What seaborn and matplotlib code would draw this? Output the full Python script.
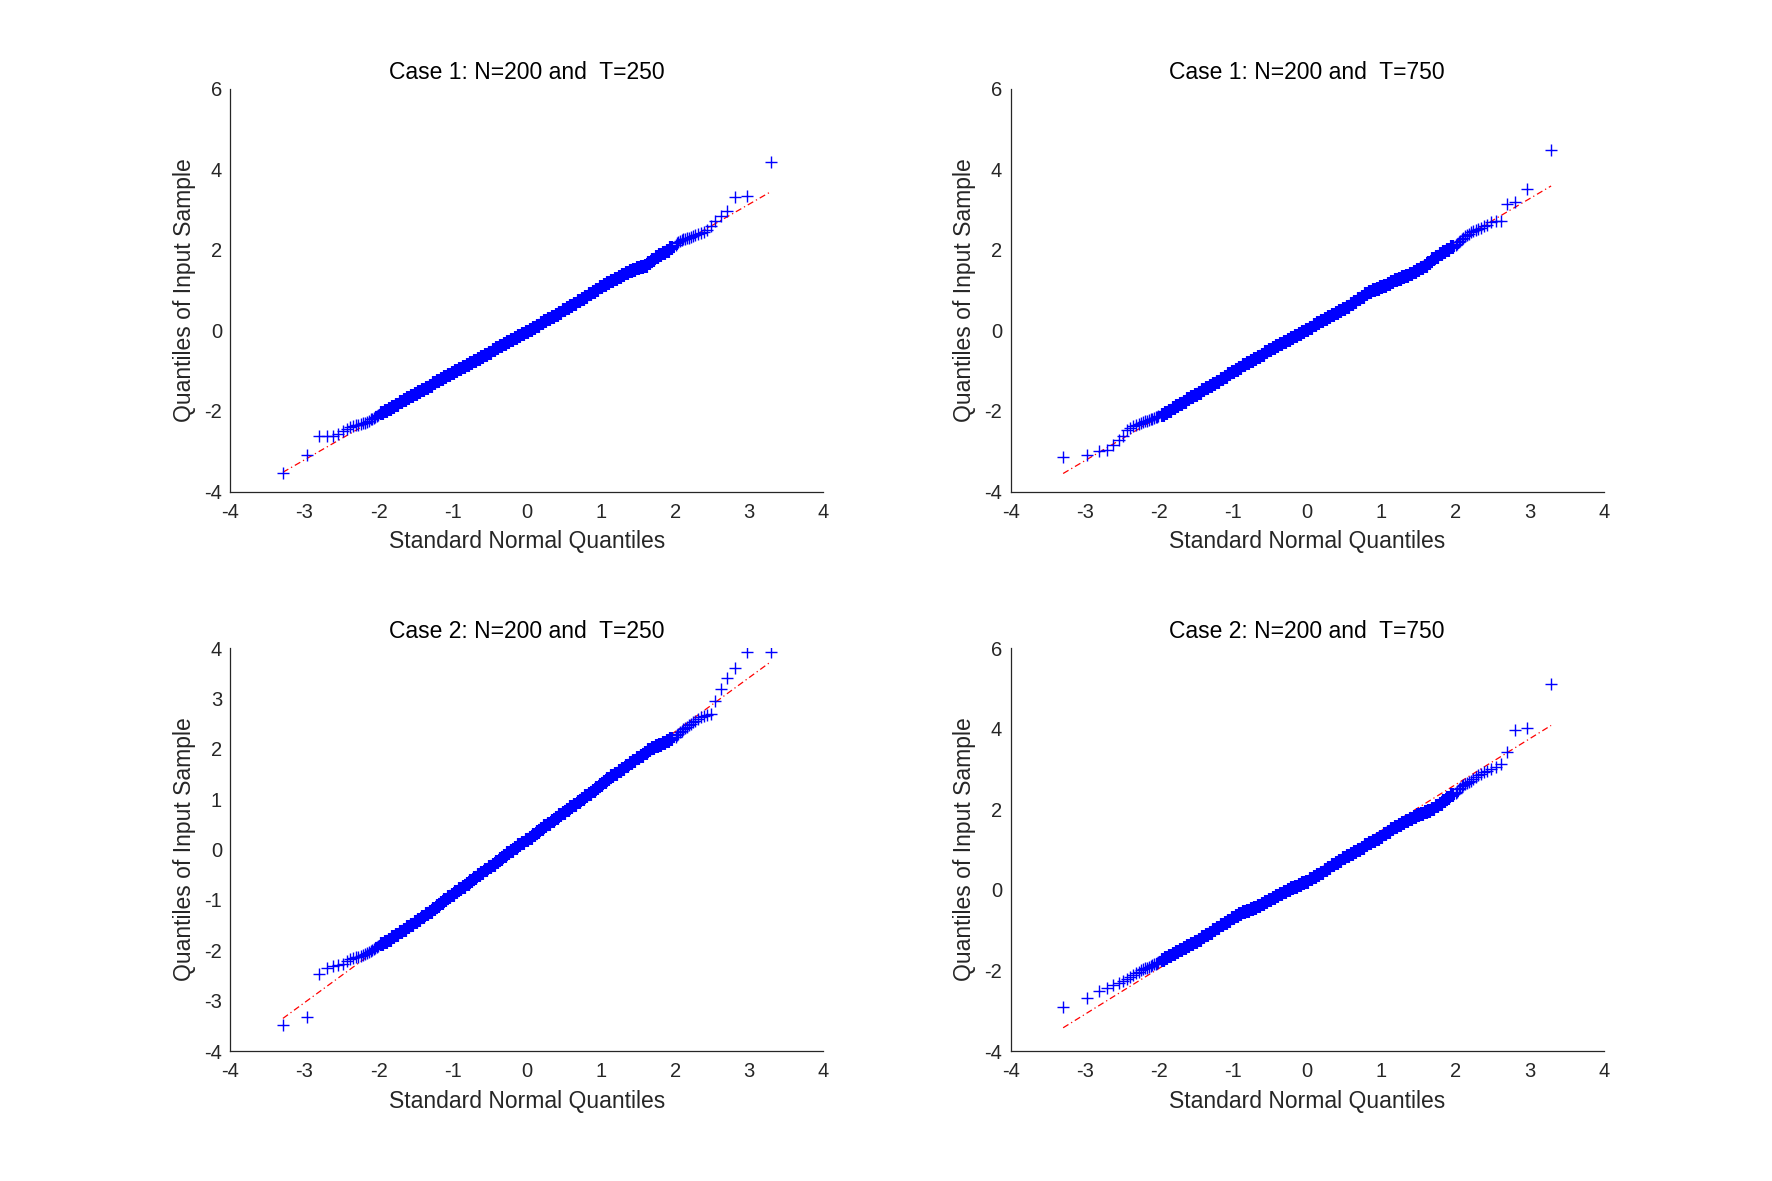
import matplotlib
matplotlib.use("Agg")
import matplotlib.pyplot as plt
import seaborn as sns
import pandas as pd
import numpy as np

# ---------------- data ----------------
titles = ["Case 1: N=200 and  T=250", "Case 1: N=200 and  T=750",
          "Case 2: N=200 and  T=250", "Case 2: N=200 and  T=750"]

# standard normal quantiles (shared by all panels)
q_lower = [-3.291, -2.968, -2.807, -2.697, -2.612, -2.543, -2.484, -2.432, -2.387, -2.346,
           -2.308, -2.273, -2.241, -2.211, -2.183, -2.157, -2.132, -2.108, -2.086, -2.064,
           -2.044, -2.024, -2.005]
q_middle = [-1.95, -1.90, -1.85, -1.80, -1.75, -1.70, -1.65, -1.60, -1.55, -1.50,
            -1.45, -1.40, -1.35, -1.30, -1.25, -1.20, -1.15, -1.10, -1.05, -1.00,
            -0.95, -0.90, -0.85, -0.80, -0.75, -0.70, -0.65, -0.60, -0.55, -0.50,
            -0.45, -0.40, -0.35, -0.30, -0.25, -0.20, -0.15, -0.10, -0.05, 0.00,
            0.05, 0.10, 0.15, 0.20, 0.25, 0.30, 0.35, 0.40, 0.45, 0.50,
            0.55, 0.60, 0.65, 0.70, 0.75, 0.80, 0.85, 0.90, 0.95, 1.00,
            1.05, 1.10, 1.15, 1.20, 1.25, 1.30, 1.35, 1.40, 1.45, 1.50,
            1.55, 1.60, 1.65, 1.70, 1.75, 1.80, 1.85, 1.90, 1.95]
q_upper = [2.005, 2.024, 2.044, 2.064, 2.086, 2.108, 2.132, 2.157, 2.183, 2.211,
           2.241, 2.273, 2.308, 2.346, 2.387, 2.432, 2.484, 2.543, 2.612, 2.697,
           2.807, 2.968, 3.291]

# sample quantiles, panel 1 (Case 1, T=250)
s1_lower = [-3.54, -3.09, -2.63, -2.62, -2.61, -2.58, -2.50, -2.44, -2.41, -2.38,
            -2.36, -2.34, -2.33, -2.31, -2.29, -2.27, -2.24, -2.21, -2.19, -2.17,
            -2.15, -2.13, -2.11]
s1_middle = [-2.06, -2.01, -1.96, -1.90, -1.85, -1.79, -1.73, -1.67, -1.62, -1.57,
             -1.52, -1.47, -1.42, -1.37, -1.31, -1.26, -1.21, -1.16, -1.11, -1.06,
             -1.00, -0.95, -0.90, -0.85, -0.80, -0.75, -0.70, -0.65, -0.60, -0.55,
             -0.50, -0.45, -0.40, -0.34, -0.29, -0.24, -0.19, -0.14, -0.09, -0.04,
             0.01, 0.07, 0.12, 0.17, 0.23, 0.28, 0.33, 0.39, 0.44, 0.50,
             0.55, 0.61, 0.66, 0.72, 0.78, 0.83, 0.89, 0.95, 1.01, 1.07,
             1.12, 1.18, 1.23, 1.28, 1.33, 1.38, 1.42, 1.47, 1.51, 1.54,
             1.57, 1.60, 1.66, 1.75, 1.82, 1.88, 1.93, 1.98, 2.04]
s1_upper = [2.12, 2.17, 2.20, 2.22, 2.24, 2.26, 2.27, 2.29, 2.30, 2.32,
            2.34, 2.36, 2.38, 2.41, 2.45, 2.48, 2.60, 2.72, 2.85, 2.95,
            3.30, 3.33, 4.17]

# panel 2 (Case 1, T=750)
s2_lower = [-3.15, -3.10, -3.00, -2.96, -2.84, -2.71, -2.63, -2.47, -2.42, -2.38,
            -2.35, -2.32, -2.30, -2.28, -2.26, -2.25, -2.23, -2.21, -2.20, -2.18,
            -2.16, -2.14, -2.12]
s2_middle = [-2.09, -2.04, -1.99, -1.93, -1.88, -1.82, -1.77, -1.71, -1.66, -1.60,
             -1.55, -1.49, -1.44, -1.38, -1.32, -1.27, -1.21, -1.15, -1.09, -1.04,
             -0.98, -0.93, -0.87, -0.82, -0.76, -0.71, -0.65, -0.60, -0.54, -0.49,
             -0.44, -0.39, -0.34, -0.29, -0.24, -0.19, -0.14, -0.09, -0.04, 0.01,
             0.07, 0.13, 0.19, 0.24, 0.29, 0.34, 0.39, 0.44, 0.49, 0.54,
             0.59, 0.65, 0.71, 0.77, 0.83, 0.89, 0.94, 0.99, 1.03, 1.07,
             1.11, 1.16, 1.20, 1.24, 1.28, 1.32, 1.36, 1.40, 1.44, 1.49,
             1.54, 1.60, 1.68, 1.76, 1.83, 1.90, 1.95, 2.00, 2.06]
s2_upper = [2.12, 2.15, 2.19, 2.22, 2.26, 2.30, 2.34, 2.37, 2.40, 2.45,
            2.47, 2.49, 2.51, 2.53, 2.58, 2.62, 2.69, 2.71, 2.72, 3.14,
            3.19, 3.50, 4.48]

# panel 3 (Case 2, T=250)
s3_lower = [-3.48, -3.32, -2.47, -2.35, -2.31, -2.29, -2.27, -2.22, -2.17, -2.15,
            -2.14, -2.13, -2.12, -2.10, -2.08, -2.05, -2.03, -2.01, -1.99, -1.97,
            -1.95, -1.93, -1.91]
s3_middle = [-1.88, -1.84, -1.79, -1.74, -1.69, -1.64, -1.59, -1.54, -1.49, -1.44,
             -1.39, -1.34, -1.28, -1.23, -1.17, -1.12, -1.06, -1.01, -0.95, -0.90,
             -0.85, -0.79, -0.74, -0.68, -0.63, -0.57, -0.51, -0.46, -0.40, -0.35,
             -0.30, -0.24, -0.18, -0.13, -0.07, -0.02, 0.04, 0.09, 0.14, 0.19,
             0.24, 0.29, 0.35, 0.40, 0.46, 0.51, 0.57, 0.62, 0.68, 0.73,
             0.79, 0.84, 0.89, 0.95, 1.00, 1.06, 1.11, 1.17, 1.22, 1.28,
             1.34, 1.40, 1.46, 1.51, 1.56, 1.61, 1.66, 1.71, 1.76, 1.81,
             1.86, 1.91, 1.97, 2.01, 2.05, 2.08, 2.12, 2.16, 2.20]
s3_upper = [2.24, 2.27, 2.30, 2.33, 2.36, 2.39, 2.41, 2.44, 2.47, 2.50,
            2.53, 2.56, 2.60, 2.63, 2.66, 2.68, 2.70, 2.96, 3.18, 3.41,
            3.61, 3.92, 3.92]

# panel 4 (Case 2, T=750)
s4_lower = [-2.91, -2.69, -2.51, -2.43, -2.36, -2.31, -2.27, -2.20, -2.15, -2.11,
            -2.07, -2.03, -2.00, -1.97, -1.95, -1.93, -1.91, -1.89, -1.87, -1.85,
            -1.83, -1.81, -1.79]
s4_middle = [-1.74, -1.70, -1.65, -1.60, -1.55, -1.50, -1.44, -1.39, -1.34, -1.29,
             -1.24, -1.18, -1.12, -1.06, -1.00, -0.94, -0.88, -0.82, -0.76, -0.70,
             -0.65, -0.60, -0.56, -0.52, -0.48, -0.44, -0.40, -0.36, -0.31, -0.26,
             -0.21, -0.16, -0.11, -0.06, -0.01, 0.04, 0.08, 0.12, 0.16, 0.20,
             0.26, 0.31, 0.37, 0.43, 0.49, 0.55, 0.61, 0.67, 0.72, 0.78,
             0.83, 0.89, 0.94, 1.00, 1.05, 1.11, 1.16, 1.21, 1.27, 1.32,
             1.38, 1.44, 1.50, 1.56, 1.61, 1.66, 1.71, 1.76, 1.80, 1.85,
             1.89, 1.93, 1.97, 2.02, 2.07, 2.13, 2.20, 2.28, 2.35]
s4_upper = [2.40, 2.44, 2.50, 2.53, 2.57, 2.60, 2.63, 2.66, 2.69, 2.71,
            2.74, 2.79, 2.84, 2.88, 2.92, 2.96, 3.00, 3.04, 3.12, 3.41,
            3.97, 4.01, 5.12]

# reference (dash-dot) line parameters
line_intercepts = [-0.04, 0.015, 0.19, 0.33]
line_slopes = [1.058, 1.084, 1.076, 1.14]

# axis ticks
x_ticks = [-4, -3, -2, -1, 0, 1, 2, 3, 4]
y_ticks_list = [[-4, -2, 0, 2, 4, 6], [-4, -2, 0, 2, 4, 6],
                [-4, -3, -2, -1, 0, 1, 2, 3, 4], [-4, -2, 0, 2, 4, 6]]

tails_y = [(s1_lower, s1_upper), (s2_lower, s2_upper), (s3_lower, s3_upper), (s4_lower, s4_upper)]
middles_y = [s1_middle, s2_middle, s3_middle, s4_middle]

# ---------------- style ----------------
sns.set_theme(style="white")
plt.rcParams['font.family'] = ['Liberation Sans', 'DejaVu Sans']
dark = '#262626'
blue = '#0000FF'

fig = plt.figure(figsize=(17.72, 11.81), dpi=100)
positions = [[0.13, 0.5838, 0.3347, 0.3412], [0.5703, 0.5838, 0.3347, 0.3412],
             [0.13, 0.11, 0.3347, 0.3412], [0.5703, 0.11, 0.3347, 0.3412]]

all_q = q_lower + q_middle + q_upper
for k in range(4):
    ax = fig.add_axes(positions[k])
    lo, up = tails_y[k]
    df_tail = pd.DataFrame({"x": q_lower + q_upper, "y": lo + up})
    df_mid = pd.DataFrame({"x": q_middle, "y": middles_y[k]})
    xr = np.array([min(all_q), max(all_q)])
    sns.lineplot(x=xr, y=line_intercepts[k] + line_slopes[k] * xr, ax=ax,
                 color='red', linewidth=0.9, linestyle=(0, (5, 2.5, 1, 2.5)), zorder=1)
    # dense central part of the sample (1000 overlapping markers form a solid band)
    sns.scatterplot(data=df_mid, x="x", y="y", ax=ax, marker='+', color=blue,
                    s=100, linewidth=3.0, zorder=2, legend=False)
    sns.scatterplot(data=df_tail, x="x", y="y", ax=ax, marker='+', color=blue,
                    s=68, linewidth=1.0, zorder=2, legend=False)
    ax.set_xlim(-4, 4)
    ax.set_ylim(min(y_ticks_list[k]), max(y_ticks_list[k]))
    ax.set_xticks(x_ticks)
    ax.set_yticks(y_ticks_list[k])
    ax.set_xticklabels([str(t) for t in x_ticks])
    ax.set_yticklabels([str(t) for t in y_ticks_list[k]])
    for side in ['top', 'right']:
        ax.spines[side].set_visible(False)
    for side in ['left', 'bottom']:
        ax.spines[side].set_color(dark)
        ax.spines[side].set_linewidth(0.9)
    ax.tick_params(axis='both', direction='in', length=4, width=0.8, color=dark,
                   labelcolor=dark, labelsize=14.5)
    ax.tick_params(axis='x', pad=8)
    ax.tick_params(axis='y', pad=6)
    ax.set_xlabel("Standard Normal Quantiles", fontsize=16.5, color=dark, labelpad=6)
    ax.set_ylabel("Quantiles of Input Sample", fontsize=16.5, color=dark, labelpad=6)
    ax.set_title(titles[k], fontsize=16.5, color='black', pad=7)
    ax.grid(False)
    ax.set_facecolor('white')

fig.savefig("out.png", dpi=100, facecolor='white')
